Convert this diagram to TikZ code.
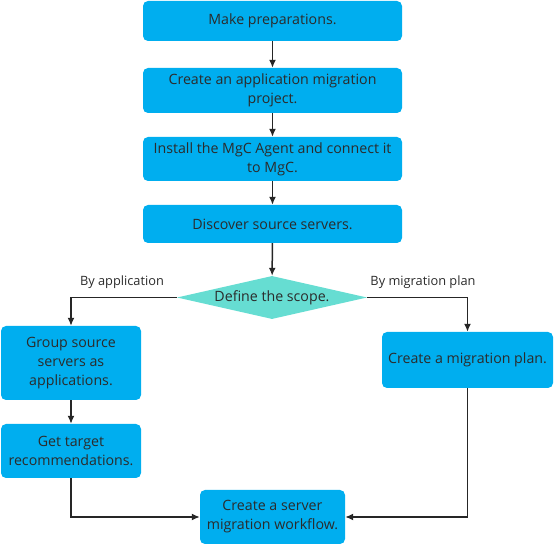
\documentclass[tikz,border=0pt]{standalone}
\usepackage{fontspec}
\setmainfont{Open Sans}
\usetikzlibrary{shapes.geometric, arrows.meta}
\definecolor{boxblue}{HTML}{00AEEF}
\definecolor{scopegreen}{HTML}{66DDD2}
\definecolor{textgray}{HTML}{2B2B2B}

\begin{document}
\begin{tikzpicture}[x=1pt, y=-1pt,
    stepbox/.style={fill=boxblue, rounded corners=5pt, align=center, text=textgray,
      inner sep=0pt, font=\fontsize{14.2}{19}\selectfont},
    choice/.style={diamond, fill=scopegreen, inner sep=0pt, aspect=4, text=textgray,
      minimum width=190pt, minimum height=43pt, font=\fontsize{14.2}{19}\selectfont},
    tag/.style={text=textgray, font=\fontsize{12.8}{15}\selectfont},
    flow/.style={-{Latex[length=8pt, width=7pt]}, line width=1.5pt, draw=black!85}]

  \useasboundingbox (0, 0) rectangle (555, 545);

  % main column
  \node[stepbox, minimum width=259pt, minimum height=40pt] (prep) at (272.5, 21) {Make preparations.};
  \node[stepbox, minimum width=259pt, minimum height=45pt] (project) at (272.5, 90.5) {Create an application migration\\project.};
  \node[stepbox, minimum width=259pt, minimum height=44pt] (agent) at (272.5, 159) {Install the MgC Agent and connect it\\to MgC.};
  \node[stepbox, minimum width=259pt, minimum height=38pt] (discover) at (272.5, 224) {Discover source servers.};
  \node[choice] (scope) at (272, 297.5) {Define the scope.};

  % branches
  \node[stepbox, minimum width=140pt, minimum height=74pt] (group) at (71, 363) {Group source\\servers as\\applications.};
  \node[stepbox, minimum width=140pt, minimum height=54pt] (target) at (71, 451) {Get target\\recommendations.};
  \node[stepbox, minimum width=171pt, minimum height=56pt] (plan) at (467.5, 360) {Create a migration plan.};
  \node[stepbox, minimum width=145pt, minimum height=54pt] (workflow) at (272.5, 517) {Create a server\\migration workflow.};

  \node[tag] (byapp) at (122, 282) {By application};
  \node[tag] (byplan) at (423, 282) {By migration plan};

  \draw[flow] (prep) -- (project);
  \draw[flow] (project) -- (agent);
  \draw[flow] (agent) -- (discover);
  \draw[flow] (discover) -- (scope);
  \draw[flow] (scope.west) -| (group.north);
  \draw[flow] (scope.east) -| (plan.north);
  \draw[flow] (group) -- (target);
  \draw[flow] (target.south) |- (workflow.west);
  \draw[flow] (plan.south) |- (workflow.east);

\end{tikzpicture}
\end{document}
